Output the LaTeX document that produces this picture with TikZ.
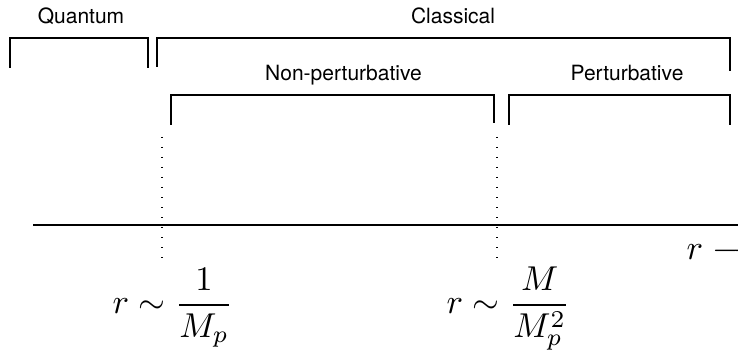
\documentclass[tikz,border=0pt]{standalone}
\usepackage{fontspec}
\setsansfont{TeX Gyre Heros}
\usepackage{amsmath}
\usepackage{graphicx}
\tikzset{
  bracket/.style={line width=1.3pt},
  regime/.style={font=\sffamily\fontsize{21}{25}\selectfont, anchor=base, inner sep=0pt},
  scale label/.style={anchor=base west, inner sep=0pt}
}
\begin{document}
\begin{tikzpicture}[x=1pt,y=1pt]
\useasboundingbox (0,0) rectangle (738,351);
\draw[bracket] (10,283) -- (10,313) -- (148,313) -- (148,283);
\draw[bracket] (157,284) -- (157,313) -- (730,313) -- (730,280);
\draw[bracket] (171,226) -- (171,256) -- (494,256) -- (494,228);
\draw[bracket] (509,226) -- (509,256) -- (730,256) -- (730,226);
\node[regime] (quantum) at (81,327) {Quantum};
\node[regime] (classical) at (453,327) {Classical};
\node[regime] (nonpert) at (343.5,270) {Non-perturbative};
\node[regime] (pert) at (627,270) {Perturbative};
\draw[line width=1.2pt, dash pattern=on 1.2pt off 8.8pt] (162,214) -- (162,91);
\draw[line width=1.2pt, dash pattern=on 1.2pt off 8.8pt] (497,214) -- (497,91);
\draw[line width=2pt] (33,126) -- (738,126);
\node[scale label] (rplanck) at (112.5,37.4) {\scalebox{3.45}{$r\sim\dfrac{1}{M_p}$}};
\node[scale label] (rmass) at (446.5,37.4) {\scalebox{3.45}{$r\sim\dfrac{M}{M_p^2}$}};
\node[scale label] (rlarge) at (686.5,91.4) {\scalebox{3.45}{$r\longrightarrow$}};
\end{tikzpicture}
\end{document}
